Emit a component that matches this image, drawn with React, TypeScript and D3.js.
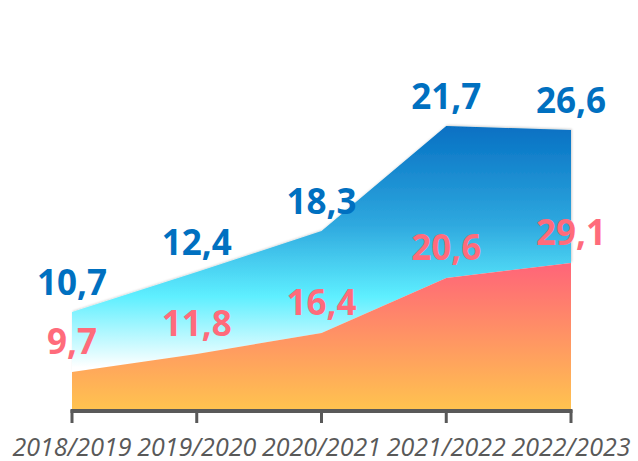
import React from "react";
import * as d3 from "d3";

const categories = ["2018/2019", "2019/2020", "2020/2021", "2021/2022", "2022/2023"];
// stacked area levels (lower series, upper series increment)
const redLevels = [3.8, 5.6, 7.7, 13.2, 14.7];
const blueIncrements = [6.0, 8.2, 10.2, 15.2, 13.3];
const redLabels = ["9,7", "11,8", "16,4", "20,6", "29,1"];
const blueLabels = ["10,7", "12,4", "18,3", "21,7", "26,6"];

const W = 638;
const H = 461;

export default function App() {
  const x = d3.scalePoint<string>().domain(categories).range([72, 571]);
  const y = d3.scaleLinear().domain([0, 30]).range([410, 110]);

  const rows = categories.map((c, i) => ({ c, red: redLevels[i], blue: blueIncrements[i] }));
  const stack = d3.stack<any>().keys(["red", "blue"]);
  const series = stack(rows);

  const area = d3
    .area<any>()
    .x((d) => x(d.data.c) as number)
    .y0((d) => y(d[0]))
    .y1((d) => y(d[1]));

  const redS = series[0];
  const blueS = series[1];
  const blueTop = d3.min(blueS, (d) => y(d[1])) as number;
  const redTop = d3.min(redS, (d) => y(d[1])) as number;

  const labelFont = "'Open Sans', 'DejaVu Sans', sans-serif";

  return (
    <svg
      width={W}
      height={H}
      style={{ position: "absolute", left: 0, top: 0, display: "block" }}
    >
      <defs>
        <linearGradient id="gBlue" gradientUnits="userSpaceOnUse" x1="0" x2="0" y1={blueTop} y2={y(0)}>
          <stop offset="0" stopColor="#0670C3" />
          <stop offset="0.35" stopColor="#2FA9DF" />
          <stop offset="0.6" stopColor="#5EEFFF" />
          <stop offset="0.85" stopColor="#FFFFFF" />
          <stop offset="1" stopColor="#FFFFFF" />
        </linearGradient>
        <linearGradient id="gRed" gradientUnits="userSpaceOnUse" x1="0" x2="0" y1={redTop} y2={y(0)}>
          <stop offset="0" stopColor="#FF6479" />
          <stop offset="1" stopColor="#FFC34F" />
        </linearGradient>
        <filter id="sh" x="-10%" y="-10%" width="120%" height="120%">
          <feDropShadow dx="1" dy="-1" stdDeviation="1.2" floodColor="#000" floodOpacity="0.18" />
        </filter>
      </defs>

      <path d={area(blueS) || ""} fill="url(#gBlue)" filter="url(#sh)" />
      <path d={area(redS) || ""} fill="url(#gRed)" />

      {/* axis */}
      <line x1={x(categories[0])! - 1.5} x2={x(categories[categories.length - 1])! + 1.5} y1={y(0) + 1} y2={y(0) + 1} stroke="#595959" strokeWidth={4} />
      {categories.map((c) => (
        <line key={"t" + c} x1={x(c)} x2={x(c)} y1={y(0)} y2={y(0) + 13} stroke="#595959" strokeWidth={3} />
      ))}
      {categories.map((c) => (
        <text
          key={"l" + c}
          x={x(c)}
          y={456}
          textAnchor="middle"
          fontFamily={labelFont}
          fontStyle="italic"
          fontSize={25}
          fill="#595959"
        >
          {c}
        </text>
      ))}

      {/* value labels */}
      {blueS.map((d, i) => (
        <text
          key={"bl" + i}
          x={x(d.data.c)}
          y={y(d[1]) - 17}
          textAnchor="middle"
          fontFamily={labelFont}
          fontWeight="bold"
          fontSize={35}
          fill="#0070C0"
        >
          {blueLabels[i]}
        </text>
      ))}
      {redS.map((d, i) => (
        <text
          key={"rl" + i}
          x={x(d.data.c)}
          y={y(d[1]) - 18}
          textAnchor="middle"
          fontFamily={labelFont}
          fontWeight="bold"
          fontSize={35}
          fill="#FF6B7B"
        >
          {redLabels[i]}
        </text>
      ))}
    </svg>
  );
}
